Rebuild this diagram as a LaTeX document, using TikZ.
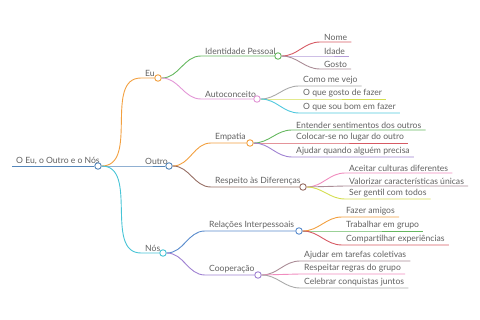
\documentclass[tikz,border=0pt]{standalone}
\usepackage{fontspec}
\setmainfont{Lato}
\usetikzlibrary{positioning}
\definecolor{rootclr}{RGB}{84,134,186}
\definecolor{euclr}{RGB}{242,160,64}
\definecolor{nosclr}{RGB}{72,196,214}
\definecolor{greenclr}{RGB}{102,184,96}
\definecolor{pinkclr}{RGB}{226,150,214}
\definecolor{redclr}{RGB}{214,90,100}
\definecolor{lavclr}{RGB}{180,156,216}
\definecolor{mauveclr}{RGB}{170,140,150}
\definecolor{grayclr}{RGB}{170,170,170}
\definecolor{limeclr}{RGB}{212,222,80}
\definecolor{cyanclr}{RGB}{80,200,222}
\definecolor{brownclr}{RGB}{150,110,100}
\definecolor{purpleclr}{RGB}{160,130,210}
\definecolor{rosaclr}{RGB}{240,140,190}
\definecolor{blueclr}{RGB}{90,140,205}

\begin{document}
\begin{tikzpicture}[
    x=1pt,
    y=-1pt,
    font=\fontsize{8.6}{10}\selectfont,
    lbl/.style={anchor=south west, inner xsep=4pt, inner ysep=1.5pt, text=black!62},
    dot/.style={circle, draw, fill=white, line width=0.9pt, minimum size=6.5pt, inner sep=0pt},
    link/.style={line width=0.9pt}
]
\useasboundingbox (0,0) rectangle (480,320);

% Root.
\node[lbl] (root_lbl) at (12,166) {O Eu, o Outro e o Nós};
\node[dot, draw=rootclr] (root) at (98,166) {};

% First level.
\node[lbl] (eu_lbl) at (141,78) {Eu};
\node[dot, draw=euclr] (eu) at (158,78) {};
\node[lbl] (outro_lbl) at (141,166) {Outro};
\node[dot, draw=rootclr] (outro) at (169,166) {};
\node[lbl] (nos_lbl) at (141,253) {Nós};
\node[dot, draw=nosclr] (nos) at (163,253) {};

% Second level.
\node[lbl] (ident_lbl) at (201,56) {Identidade Pessoal};
\node[dot, draw=greenclr] (ident) at (278,56) {};
\node[lbl] (auto_lbl) at (201,99) {Autoconceito};
\node[dot, draw=pinkclr] (auto) at (257,99) {};
\node[lbl] (emp_lbl) at (211,143) {Empatia};
\node[dot, draw=euclr] (emp) at (250,143) {};
\node[lbl] (resp_lbl) at (211,187) {Respeito às Diferenças};
\node[dot, draw=brownclr] (resp) at (303,187) {};
\node[lbl] (rel_lbl) at (205,231) {Relações Interpessoais};
\node[dot, draw=blueclr] (rel) at (299,231) {};
\node[lbl] (coop_lbl) at (205,275) {Cooperação};
\node[dot, draw=purpleclr] (coop) at (258,275) {};

% Leaves.
\node[lbl] (nome) at (320,42) {Nome};
\node[lbl] (idade) at (320,56) {Idade};
\node[lbl] (gosto) at (320,69) {Gosto};
\node[lbl] (vejo) at (299,86) {Como me vejo};
\node[lbl] (gosto_fazer) at (299,99) {O que gosto de fazer};
\node[lbl] (bom) at (299,113) {O que sou bom em fazer};
\node[lbl] (entender) at (292,130) {Entender sentimentos dos outros};
\node[lbl] (colocar) at (292,143) {Colocar-se no lugar do outro};
\node[lbl] (ajudar) at (292,157) {Ajudar quando alguém precisa};
\node[lbl] (aceitar) at (345,173) {Aceitar culturas diferentes};
\node[lbl] (valorizar) at (345,186) {Valorizar características únicas};
\node[lbl] (gentil) at (345,199) {Ser gentil com todos};
\node[lbl] (amigos) at (342,217) {Fazer amigos};
\node[lbl] (grupo) at (342,231) {Trabalhar em grupo};
\node[lbl] (compart) at (342,245) {Compartilhar experiências};
\node[lbl] (tarefas) at (300,261) {Ajudar em tarefas coletivas};
\node[lbl] (regras) at (300,274) {Respeitar regras do grupo};
\node[lbl] (celebrar) at (300,288) {Celebrar conquistas juntos};

% Root links.
\draw[link, rootclr] (root_lbl.south west) -- (root.west);
\draw[link, euclr] (root.east) to[out=0, in=180] (eu_lbl.south west) -- (eu.west);
\draw[link, rootclr] (root.east) -- (outro_lbl.south west) -- (outro.west);
\draw[link, nosclr] (root.east) to[out=0, in=180] (nos_lbl.south west) -- (nos.west);

% Eu.
\draw[link, greenclr] (eu.east) to[out=0, in=180] (ident_lbl.south west) -- (ident.west);
\draw[link, pinkclr] (eu.east) to[out=0, in=180] (auto_lbl.south west) -- (auto.west);
\draw[link, redclr] (ident.east) to[out=0, in=180] (nome.south west) -- (nome.south east);
\draw[link, lavclr] (ident.east) -- (idade.south west) -- (idade.south east);
\draw[link, mauveclr] (ident.east) to[out=0, in=180] (gosto.south west) -- (gosto.south east);
\draw[link, grayclr] (auto.east) to[out=0, in=180] (vejo.south west) -- (vejo.south east);
\draw[link, limeclr] (auto.east) -- (gosto_fazer.south west) -- (gosto_fazer.south east);
\draw[link, cyanclr] (auto.east) to[out=0, in=180] (bom.south west) -- (bom.south east);

% Outro.
\draw[link, euclr] (outro.east) to[out=0, in=180] (emp_lbl.south west) -- (emp.west);
\draw[link, brownclr] (outro.east) to[out=0, in=180] (resp_lbl.south west) -- (resp.west);
\draw[link, greenclr] (emp.east) to[out=0, in=180] (entender.south west) -- (entender.south east);
\draw[link, redclr] (emp.east) -- (colocar.south west) -- (colocar.south east);
\draw[link, purpleclr] (emp.east) to[out=0, in=180] (ajudar.south west) -- (ajudar.south east);
\draw[link, rosaclr] (resp.east) to[out=0, in=180] (aceitar.south west) -- (aceitar.south east);
\draw[link, mauveclr] (resp.east) -- (valorizar.south west) -- (valorizar.south east);
\draw[link, limeclr] (resp.east) to[out=0, in=180] (gentil.south west) -- (gentil.south east);

% Nós.
\draw[link, blueclr] (nos.east) to[out=0, in=180] (rel_lbl.south west) -- (rel.west);
\draw[link, purpleclr] (nos.east) to[out=0, in=180] (coop_lbl.south west) -- (coop.west);
\draw[link, euclr] (rel.east) to[out=0, in=180] (amigos.south west) -- (amigos.south east);
\draw[link, greenclr] (rel.east) -- (grupo.south west) -- (grupo.south east);
\draw[link, redclr] (rel.east) to[out=0, in=180] (compart.south west) -- (compart.south east);
\draw[link, mauveclr] (coop.east) to[out=0, in=180] (tarefas.south west) -- (tarefas.south east);
\draw[link, rosaclr] (coop.east) -- (regras.south west) -- (regras.south east);
\draw[link, grayclr] (coop.east) to[out=0, in=180] (celebrar.south west) -- (celebrar.south east);

\end{tikzpicture}
\end{document}
